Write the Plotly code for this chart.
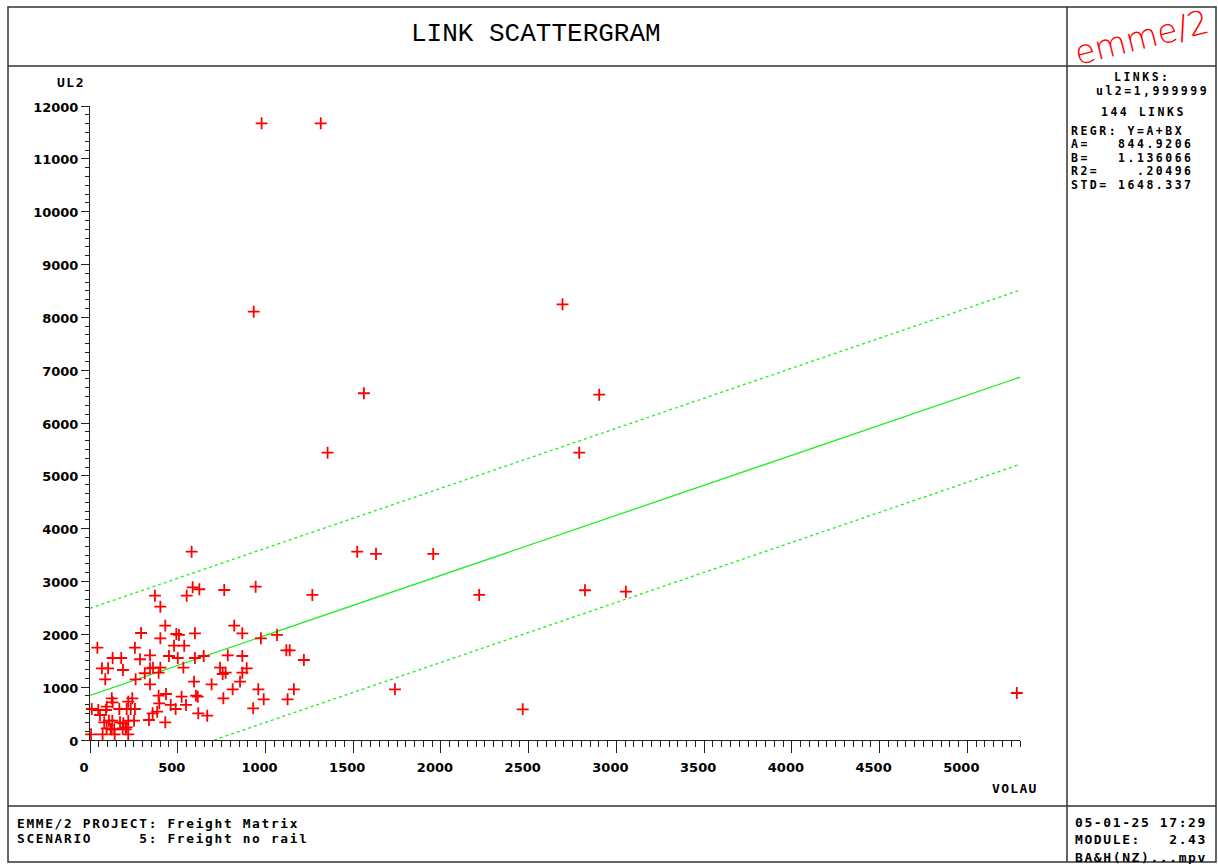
import plotly.graph_objects as go

# ---------------- data ----------------
VOLAU = [978, 1315, 933, 1561, 1354, 2693, 2902, 2788, 579, 1523, 1630, 1956, 1267, 2218, 2821, 3054,
         1219, 1738, 2466, 5282,
         370, 551, 585, 623, 765, 944,
         401, 429, 291, 401, 492, 507, 598, 822, 868, 974, 1066,
         42, 256, 479, 537,
         129, 178, 285, 342, 450, 500, 598, 648, 785, 868, 1119, 1138,
         68, 103, 188, 87, 260, 312, 342, 359, 401, 391, 342, 532, 593, 741, 756, 773, 693, 813, 855, 868,
         893, 959, 1162, 990, 1126, 930, 760, 604, 614, 522, 433, 391,
         460, 395, 383, 357, 488, 547, 617, 668, 429, 336,
         124, 129, 241, 218, 10, 47, 57, 95, 91, 167, 209, 232, 256,
         171, 190, 218, 251, 81, 108, 127,
         95, 124, 138, 186, 209, 203, 72, 141, 218, 6, 118]
UL2 = [11673, 11673, 8107, 6563, 5438, 8247, 6536, 5438, 3564, 3564, 3521, 3521, 2745, 2745, 2834, 2807,
       1514, 960, 581, 890,
       2731, 2731, 2890, 2853, 2839, 2902,
       2523, 2164, 2025, 1925, 2006, 1988, 2020, 2164, 2020, 1925, 1988,
       1747, 1747, 1785, 1785,
       1552, 1552, 1528, 1603, 1590, 1552, 1552, 1590, 1603, 1590, 1698, 1698,
       1357, 1357, 1325, 1149, 1149, 1263, 1357, 1369, 1369, 1274, 1054, 1369, 1104, 1369, 1249, 1274, 1054, 960, 1104, 1274,
       1357, 960, 960, 770, 770, 600, 789, 839, 820, 820, 871, 839,
       663, 695, 536, 505, 587, 663, 505, 460, 335, 379,
       789, 714, 789, 725, 587, 568, 473, 630, 568, 587, 587, 587, 587,
       335, 316, 365, 365, 335, 365, 365,
       221, 202, 202, 221, 240, 202, 108, 108, 108, 108, 208]

REG_A = 844.9206
REG_B = 1.136066
REG_STD = 1648.337
X_MAX = 5300
Y_MAX = 12000

title_text = "LINK SCATTERGRAM"
panel_links = "LINKS:"
panel_ul2 = "ul2=1,999999"
panel_count = "144 LINKS"
panel_regr = ["REGR: Y=A+BX", "A=   844.9206", "B=   1.136066", "R2=    .20496", "STD= 1648.337"]
footer_left = ["EMME/2 PROJECT: Freight Matrix", "SCENARIO     5: Freight no rail"]
footer_right = ["05-01-25 17:29", "MODULE:   2.43", "BA&H(NZ)...mpv"]

# ---------------- layout helpers ----------------
W, H = 1218, 864
def px(x):
    return x / W
def py(y):
    return 1 - y / H

MONO = "DejaVu Sans Mono"
SANS = "DejaVu Sans"

fig = go.Figure()

# regression lines
x_low0 = (REG_STD - REG_A) / REG_B
fig.add_trace(go.Scatter(x=[0, X_MAX], y=[REG_A, REG_A + REG_B * X_MAX], mode="lines",
                         line=dict(color="#22ee22", width=1.3), hoverinfo="skip"))
fig.add_trace(go.Scatter(x=[0, X_MAX], y=[REG_A + REG_STD, REG_A + REG_STD + REG_B * X_MAX], mode="lines",
                         line=dict(color="#22ee22", width=1.3, dash="3px,3px"), hoverinfo="skip"))
fig.add_trace(go.Scatter(x=[x_low0, X_MAX], y=[0, REG_A - REG_STD + REG_B * X_MAX], mode="lines",
                         line=dict(color="#22ee22", width=1.3, dash="3px,3px"), hoverinfo="skip"))

# points
fig.add_trace(go.Scatter(x=VOLAU, y=UL2, mode="markers", cliponaxis=False,
                         marker=dict(symbol="cross-thin", size=8.5, color="red",
                                     line=dict(color="red", width=1.8))))

AX = "#222222"
TICKFONT = dict(family=SANS, size=13, color="black", weight="bold")
fig.update_layout(
    width=W, height=H, margin=dict(l=0, r=0, t=0, b=0, pad=0, autoexpand=False),
    paper_bgcolor="white", plot_bgcolor="white", showlegend=False,
    xaxis=dict(domain=[px(90), px(1020)], range=[0, X_MAX], showgrid=False, zeroline=False,
               showline=True, linecolor=AX, linewidth=1, ticks="outside", ticklen=12,
               tickcolor=AX, tickwidth=1, tick0=0, dtick=500, tickformat="d",
               tickfont=TICKFONT, ticklabelshift=-6, ticklabelstandoff=3, automargin=False,
               minor=dict(dtick=50, tick0=0, ticks="outside", ticklen=6, tickcolor=AX, showgrid=False)),
    yaxis=dict(domain=[py(740), py(106)], range=[0, Y_MAX], showgrid=False, zeroline=False,
               showline=True, linecolor=AX, linewidth=1, ticks="outside", ticklen=8,
               tickcolor=AX, tickwidth=1, tick0=0, dtick=1000, tickformat="d",
               tickfont=TICKFONT, ticklabelshift=1, ticklabelstandoff=0, automargin=False,
               minor=dict(dtick=1000 / 6, tick0=0, ticks="outside", ticklen=4, tickcolor=AX, showgrid=False)),
)

# frame
FR = "#333333"
def hline(x0, x1, y):
    fig.add_shape(type="line", xref="paper", yref="paper", x0=px(x0), x1=px(x1), y0=py(y), y1=py(y),
                  line=dict(color=FR, width=1.5))
def vline(x, y0, y1):
    fig.add_shape(type="line", xref="paper", yref="paper", x0=px(x), x1=px(x), y0=py(y0), y1=py(y1),
                  line=dict(color=FR, width=1.5))
fig.add_shape(type="rect", xref="paper", yref="paper", x0=px(8), x1=px(1216), y0=py(862), y1=py(7),
              line=dict(color=FR, width=1.5))
hline(8, 1216, 66)
hline(8, 1216, 806)
vline(1067, 7, 862)

def text(x, y, s, size=12, anchor="left", bold=True, color="black", family=MONO, angle=0, ls=None):
    s = s.replace(" ", "\u00a0")
    if ls is not None:
        s = '<span style="letter-spacing:%.2fpx">%s</span>' % (ls, s)
    fig.add_annotation(xref="paper", yref="paper", x=px(x), y=py(y), text=s, showarrow=False,
                       xanchor=anchor, yanchor="middle", textangle=angle,
                       font=dict(family=family, size=size, color=color, weight="bold" if bold else "normal"))

# title
text(536, 34, title_text, size=26, anchor="center", bold=False, family="Liberation Mono")
# logo
fig.add_annotation(xref="paper", yref="paper", x=px(1141), y=py(37), text="emme/2", showarrow=False,
                   xanchor="center", yanchor="middle", textangle=-14,
                   font=dict(family=SANS, size=33, color="red", weight=200))

# axis titles
text(55, 82, "UL2", anchor="left", size=13, ls=1.5)
text(990, 788, "VOLAU", anchor="left", size=13, ls=1.3)

# right panel
text(1112, 77, panel_links, anchor="left", size=11.5, ls=2.5)
text(1094, 91, panel_ul2, anchor="left", size=11.5, ls=2.5)
text(1099, 112, panel_count, anchor="left", size=11.5, ls=2.5)
for i, s in enumerate(panel_regr):
    text(1069, 131 + 13.5 * i, s, anchor="left", size=11.5, ls=2.5)

# footers
for i, s in enumerate(footer_left):
    text(15, 823 + 15 * i, s, anchor="left", size=12.8, ls=1.7)
for i, s in enumerate(footer_right):
    text(1073, 822 + 17.5 * i, s, anchor="left", size=13, ls=1.6)

fig.write_html("out.html", config={"displayModeBar": False},
               post_script="document.body.style.margin='0';document.body.style.overflow='hidden';")
